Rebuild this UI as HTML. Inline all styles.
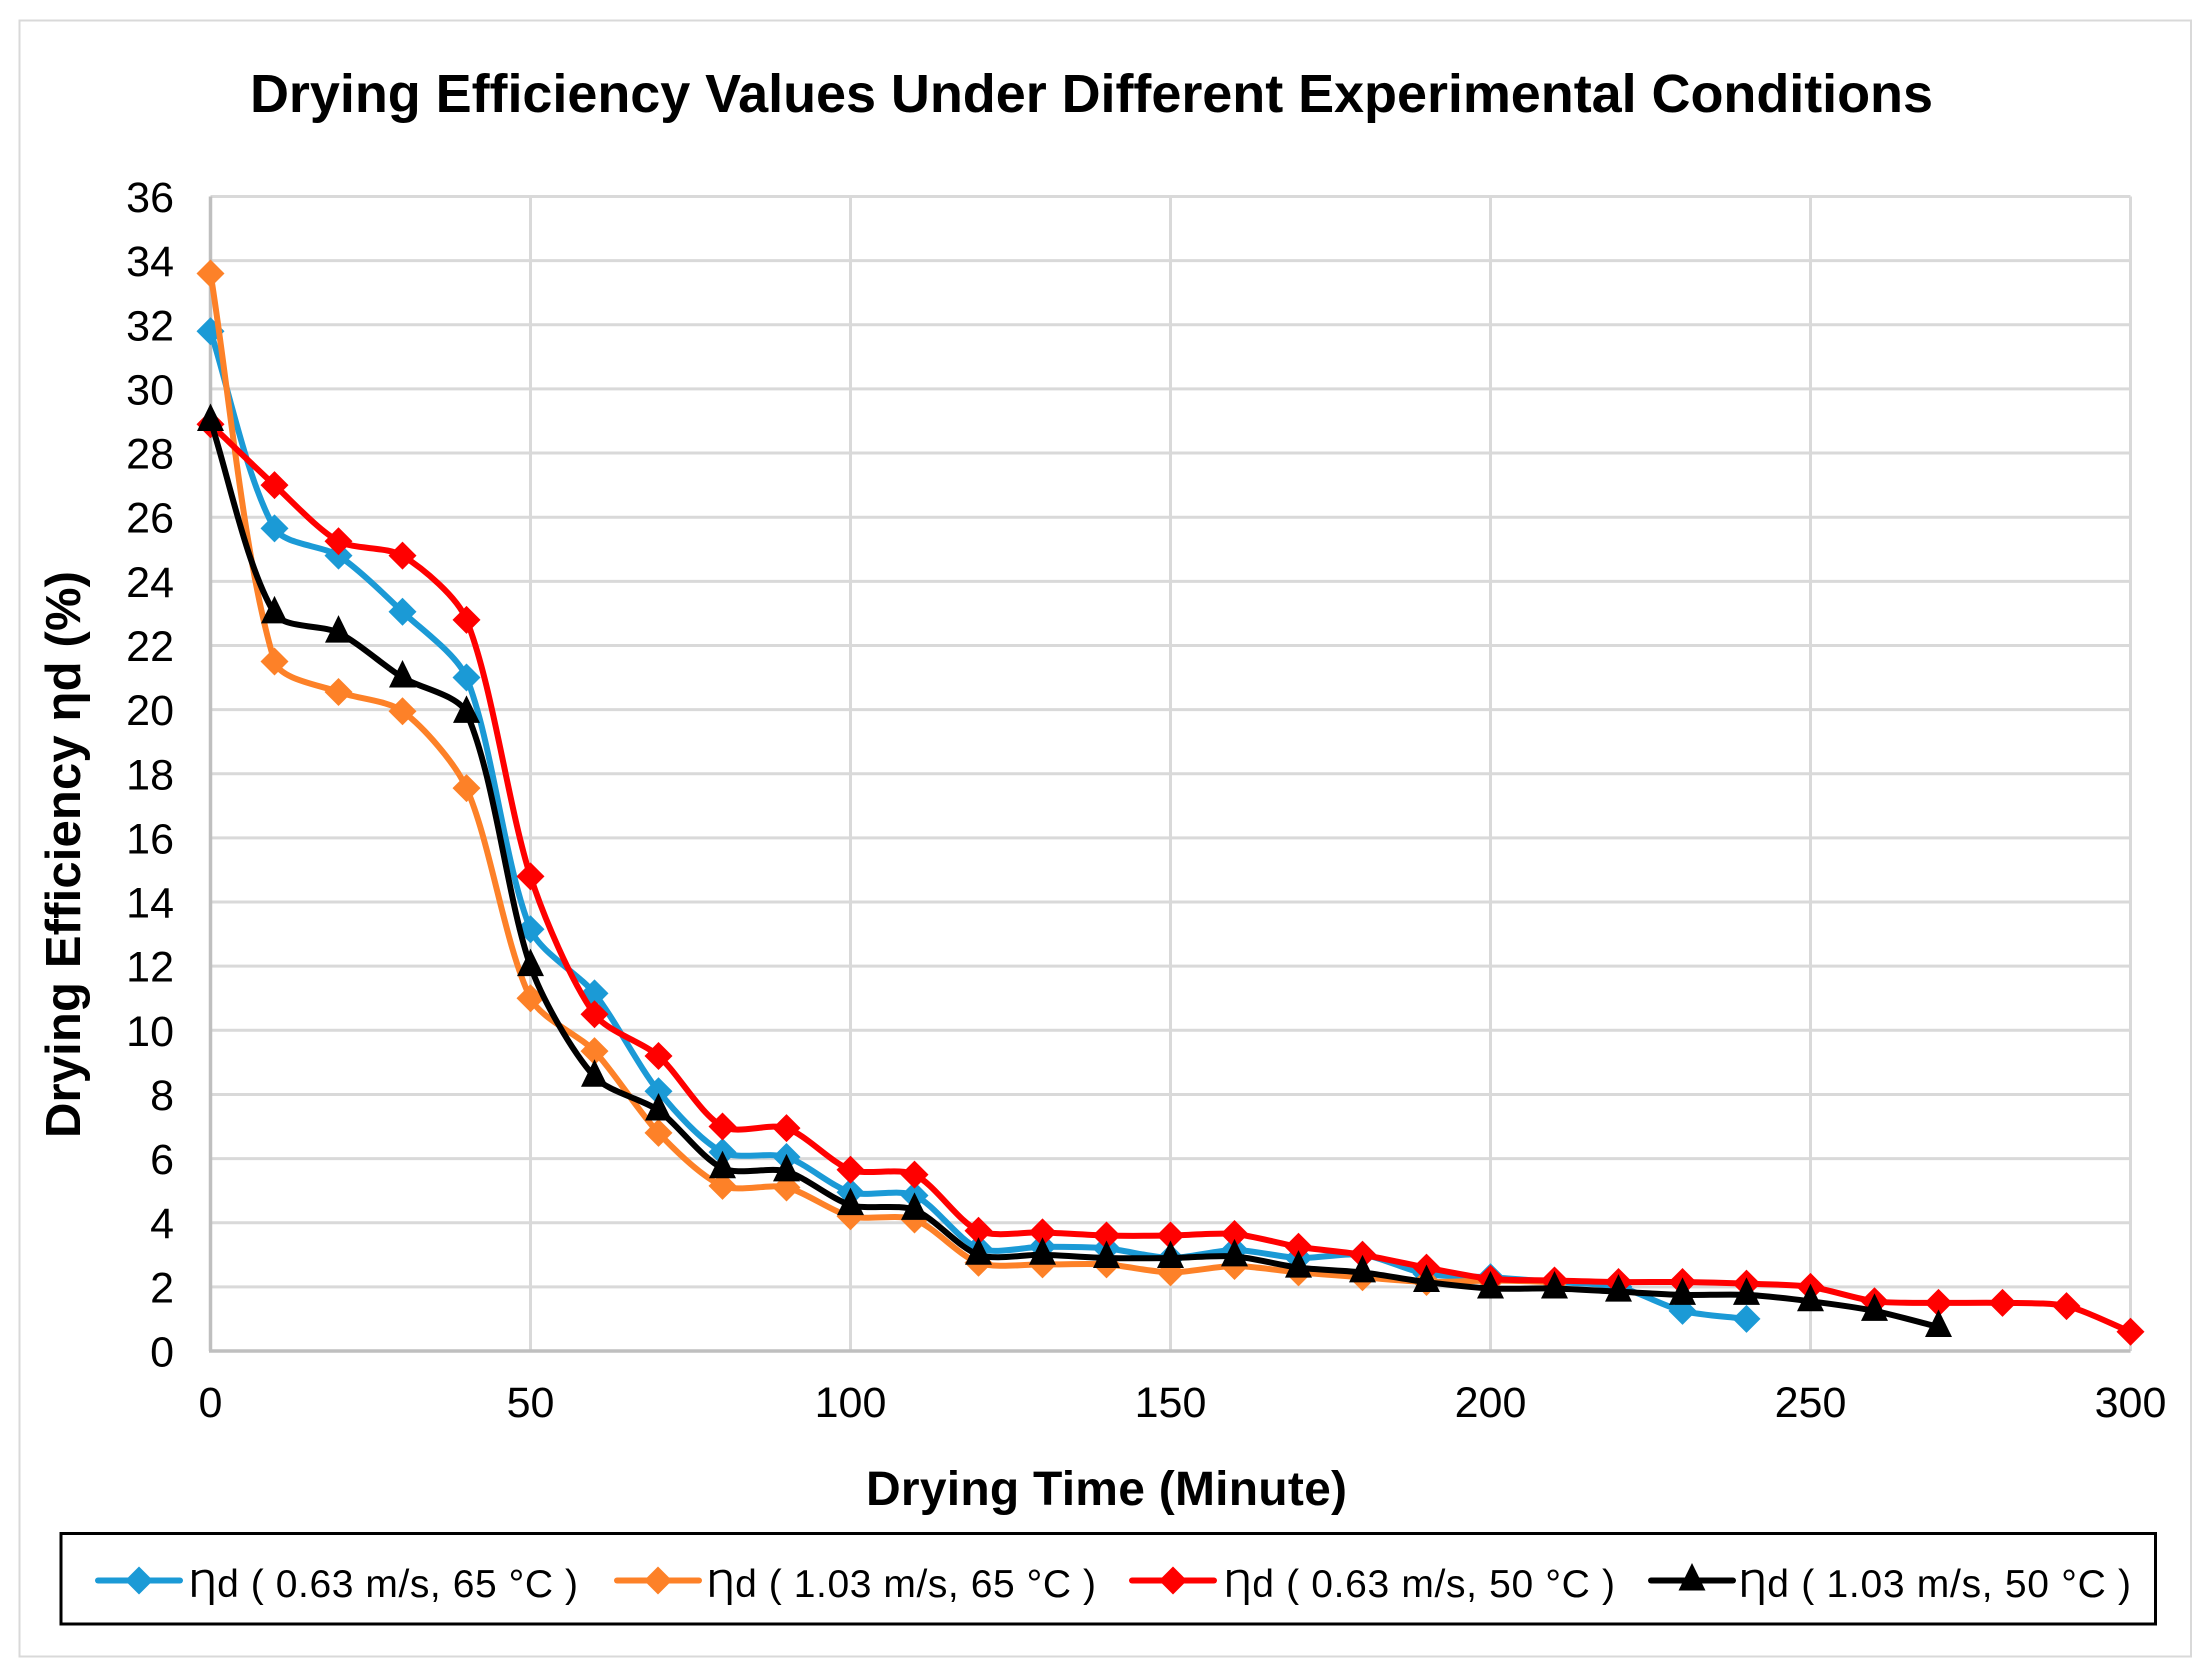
<!DOCTYPE html>
<html>
<head>
<meta charset="utf-8">
<title>Drying Efficiency Values</title>
<style>
html,body{margin:0;padding:0;background:#fff;width:2212px;height:1678px;overflow:hidden}
svg{display:block}
text{font-family:"Liberation Sans",Arial,sans-serif;fill:#000}
.legend-text{font-family:"Liberation Sans","DejaVu Sans",sans-serif}
</style>
</head>
<body>
<svg id="chart" width="2212" height="1678" viewBox="0 0 2212 1678" xmlns="http://www.w3.org/2000/svg">
  <rect x="0" y="0" width="2212" height="1678" fill="#fff"/>
  <rect x="19.5" y="20.5" width="2171.5" height="1636" fill="#fff" stroke="#d9d9d9" stroke-width="2"/>
  <text x="250" y="112" font-size="54" font-weight="bold" textLength="1683" lengthAdjust="spacing">Drying Efficiency Values Under Different Experimental Conditions</text>
  <g id="grid"></g>
  <g id="ticks"></g>
  <g id="series"></g>
  <text x="866" y="1505" font-size="48" font-weight="bold" textLength="481" lengthAdjust="spacing">Drying Time (Minute)</text>
  <text transform="translate(80,1138) rotate(-90)" x="0" y="0" font-size="49" font-weight="bold" textLength="567" lengthAdjust="spacing">Drying Efficiency ηd (%)</text>
  <rect x="61" y="1533.5" width="2094.5" height="90.5" fill="#fff" stroke="#000" stroke-width="3"/>
  <g id="legend"></g>
</svg>
<script>
const xTickLabels = [0, 50, 100, 150, 200, 250, 300];
const yTickLabels = [0, 2, 4, 6, 8, 10, 12, 14, 16, 18, 20, 22, 24, 26, 28, 30, 32, 34, 36];
const timeStep = 10;
const blueValues = [31.8, 25.65, 24.8, 23.05, 21, 13.15, 11.15, 8.1, 6.2, 6.05, 4.95, 4.85, 3.2, 3.25, 3.2, 2.9, 3.15, 2.9, 3.0, 2.4, 2.3, 2.15, 2.0, 1.25, 1.0];
const orangeValues = [33.6, 21.5, 20.55, 19.95, 17.55, 11.0, 9.35, 6.8, 5.15, 5.1, 4.2, 4.1, 2.75, 2.7, 2.7, 2.45, 2.65, 2.45, 2.3, 2.15, 2.2, 2.15];
const redValues = [28.9, 27, 25.25, 24.8, 22.8, 14.8, 10.5, 9.2, 7, 6.95, 5.65, 5.5, 3.75, 3.7, 3.6, 3.6, 3.65, 3.25, 3.0, 2.6, 2.25, 2.2, 2.15, 2.15, 2.1, 2.0, 1.55, 1.5, 1.5, 1.4, 0.6];
const blackValues = [29, 23, 22.4, 21, 19.9, 12, 8.55, 7.5, 5.7, 5.6, 4.55, 4.4, 3.0, 3.0, 2.9, 2.9, 2.95, 2.6, 2.45, 2.15, 1.95, 1.95, 1.85, 1.75, 1.75, 1.55, 1.25, 0.75];
const seriesLabels = ["Ƞd ( 0.63 m/s, 65 °C )", "Ƞd ( 1.03 m/s, 65 °C )", "Ƞd ( 0.63 m/s, 50 °C )", "Ƞd ( 1.03 m/s, 50 °C )"];

const NS = "http://www.w3.org/2000/svg";
const PLOT = { left: 210.5, right: 2130.5, top: 196.5, bottom: 1351 };
const xMax = xTickLabels[xTickLabels.length - 1];
const yMax = yTickLabels[yTickLabels.length - 1];
function xScale(v) { return PLOT.left + (v / xMax) * (PLOT.right - PLOT.left); }
function yScale(v) { return PLOT.bottom - (v / yMax) * (PLOT.bottom - PLOT.top); }

function make(tag, parent, attrs) {
  const el = document.createElementNS(NS, tag);
  for (const k in attrs) el.setAttribute(k, attrs[k]);
  parent.appendChild(el);
  return el;
}

function smoothPath(pts) {
  let d = "M" + pts[0][0].toFixed(2) + " " + pts[0][1].toFixed(2);
  const dist = (a, b) => Math.hypot(a[0] - b[0], a[1] - b[1]);
  const k = 0.27;
  function ctrl(prev, cur, next, seg) {
    const s = seg / (dist(prev, next) || 1) * k;
    return [(next[0] - prev[0]) * s, (next[1] - prev[1]) * s];
  }
  for (let i = 0; i < pts.length - 1; i++) {
    const p0 = pts[Math.max(i - 1, 0)], p1 = pts[i], p2 = pts[i + 1], p3 = pts[Math.min(i + 2, pts.length - 1)];
    const seg = dist(p1, p2);
    const a = ctrl(p0, p1, p2, seg), b = ctrl(p1, p2, p3, seg);
    d += "C" + (p1[0] + a[0]).toFixed(2) + " " + (p1[1] + a[1]).toFixed(2) + " " +
      (p2[0] - b[0]).toFixed(2) + " " + (p2[1] - b[1]).toFixed(2) + " " +
      p2[0].toFixed(2) + " " + p2[1].toFixed(2);
  }
  return d;
}
function diamond(x, y, r) {
  return "M" + x + " " + (y - r) + "L" + (x + r) + " " + y + "L" + x + " " + (y + r) + "L" + (x - r) + " " + y + "Z";
}
function triangle(x, y) {
  return "M" + x + " " + (y - 17.5) + "L" + (x + 13.5) + " " + (y + 10) + "L" + (x - 13.5) + " " + (y + 10) + "Z";
}

const grid = document.getElementById("grid");
const ticks = document.getElementById("ticks");
yTickLabels.forEach(function (v) {
  if (v !== 0) {
    const hl = make("line", grid, { x1: PLOT.left, x2: PLOT.right, y1: yScale(v), y2: yScale(v), stroke: "#d9d9d9", "stroke-width": 3 });
    
    
  }
  const t = make("text", ticks, { x: 174, y: yScale(v) + 15.5, "font-size": 43, "text-anchor": "end" });
  t.textContent = v;
  
  
});
xTickLabels.forEach(function (v) {
  if (v !== 0) {
    const vl = make("line", grid, { x1: xScale(v), x2: xScale(v), y1: PLOT.top, y2: PLOT.bottom, stroke: "#d9d9d9", "stroke-width": 3 });
    
    
  }
  const t = make("text", ticks, { x: xScale(v), y: 1417, "font-size": 43, "text-anchor": "middle" });
  t.textContent = v;
  
  
});
const xAxisLine = make("line", grid, { x1: PLOT.left - 1.5, x2: PLOT.right, y1: PLOT.bottom, y2: PLOT.bottom, stroke: "#bfbfbf", "stroke-width": 3.5 });


const yAxisLine = make("line", grid, { x1: PLOT.left, x2: PLOT.left, y1: PLOT.top, y2: PLOT.bottom, stroke: "#bfbfbf", "stroke-width": 3.5 });



const seriesGroup = document.getElementById("series");
function drawSeries(values, color, shape, name) {
  const pts = values.map(function (v, i) { return [xScale(i * timeStep), yScale(v)]; });
  const line = make("path", seriesGroup, { d: smoothPath(pts), fill: "none", stroke: color, "stroke-width": 6, "stroke-linejoin": "round" });
  
  
  pts.forEach(function (p) {
    const d = shape === "triangle" ? triangle(p[0], p[1]) : diamond(p[0], p[1], 14);
    const m = make("path", seriesGroup, { d: d, fill: color });
    
    
  });
}
drawSeries(blueValues, "#1b9ad6", "diamond", "series-063-65");
drawSeries(orangeValues, "#fd8128", "diamond", "series-103-65");
drawSeries(redValues, "#ff0000", "diamond", "series-063-50");
drawSeries(blackValues, "#000000", "triangle", "series-103-50");

const legend = document.getElementById("legend");
function drawLegend(i, x1, x2, tx, tw, color, shape) {
  const ly = 1580.5;
  const line = make("line", legend, { x1: x1, x2: x2, y1: ly, y2: ly, stroke: color, "stroke-width": 6, "stroke-linecap": "round" });
  
  
  const cx = (x1 + x2) / 2;
  const d = shape === "triangle" ? triangle(cx, ly) : diamond(cx, ly, 14);
  const m = make("path", legend, { d: d, fill: color });
  
  
  const t = make("text", legend, { x: tx, y: 1597, "font-size": 39, textLength: tw, lengthAdjust: "spacing", class: "legend-text" });
  t.textContent = seriesLabels[i];
  
  
}
drawLegend(0, 98, 180, 189, 389, "#1b9ad6", "diamond");
drawLegend(1, 617, 699, 707, 389, "#fd8128", "diamond");
drawLegend(2, 1132, 1214, 1224, 391, "#ff0000", "diamond");
drawLegend(3, 1651, 1733, 1739, 392, "#000000", "triangle");
</script>
</body>
</html>
